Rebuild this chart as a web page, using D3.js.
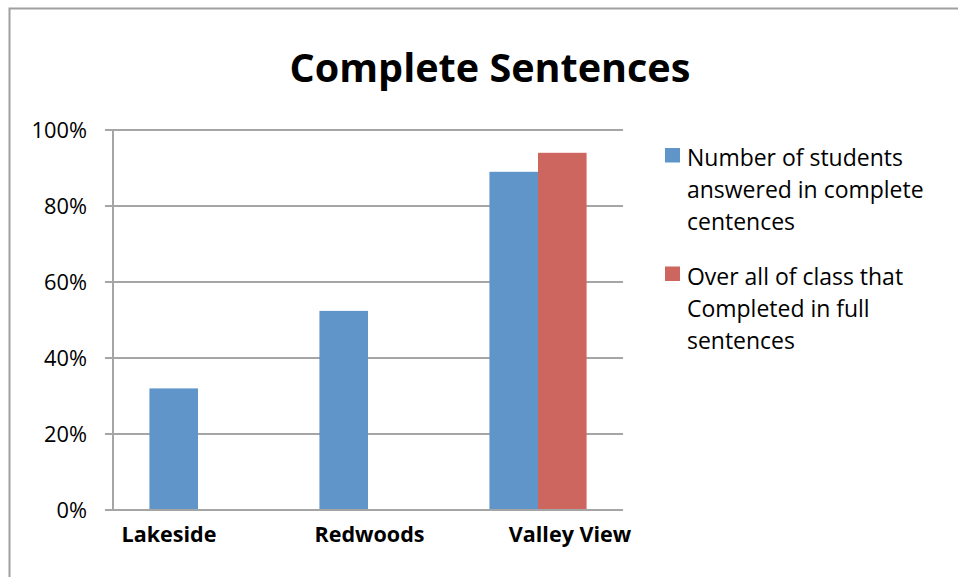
<!DOCTYPE html>
<html>
<head>
<meta charset="utf-8">
<script src="https://cdn.jsdelivr.net/npm/d3@7/dist/d3.min.js"></script>
<style>
  html, body { margin: 0; padding: 0; background: #ffffff; }
  svg { display: block; font-family: "Open Sans", "Noto Sans", sans-serif; }
</style>
</head>
<body>
<svg id="chart" width="958" height="577"></svg>
<script>
// ---- data ----
const titleText = "Complete Sentences";
const categories = ["Lakeside", "Redwoods", "Valley View"];
const seriesNames = [
  "Number of students answered in complete centences",
  "Over all of class that Completed in full sentences"
];
const legendLines = [
  ["Number of students", "answered in complete", "centences"],
  ["Over all of class that", "Completed in full", "sentences"]
];
const studentsValues = [0.32, 0.524, 0.89];
const classValues = [0, 0, 0.94];
const yTicks = [0, 0.2, 0.4, 0.6, 0.8, 1.0];
const colors = ["#6095c9", "#cc665f"];

// ---- layout ----
const W = 958, H = 577;
const plot = { left: 113, right: 623, top: 130, bottom: 510 };
const gridColor = "#a5a5a5";

const svg = d3.select("#chart");

// frame (top and left border visible)
svg.append("path")
  .attr("d", `M9.5,${H} L9.5,8.5 L${W},8.5`)
  .attr("fill", "none").attr("stroke", "#a0a0a0").attr("stroke-width", 2);

// helper: scale font size so a reference string matches a target width
function fitSize(text, weight, baseSize, targetWidth) {
  const t = svg.append("text").attr("font-size", baseSize).attr("font-weight", weight).text(text);
  const w = t.node().getComputedTextLength();
  t.remove();
  return baseSize * targetWidth / w;
}

const titleSize = fitSize(titleText, "bold", 40, 401);
const tickSize = fitSize("0%", "normal", 24, 30.5);
const legendSize = fitSize("Number of students", "normal", 24, 216);
const catSize = fitSize("Lakeside", "bold", 24, 95);

// ---- scales ----
const y = d3.scaleLinear().domain([0, 1]).range([plot.bottom, plot.top]);
const p = 1.5 / 3.5;
const x0 = d3.scaleBand().domain(categories).range([plot.left, plot.right])
  .paddingInner(p).paddingOuter(p / 2);
const x1 = d3.scaleBand().domain(seriesNames).range([0, x0.bandwidth()]);
const labelX = d3.scalePoint().domain(categories).range([169, 570]);

// ---- gridlines ----
svg.append("g").selectAll("line").data(yTicks).join("line")
  .attr("x1", plot.left - 8).attr("x2", plot.right)
  .attr("y1", d => y(d)).attr("y2", d => y(d))
  .attr("stroke", gridColor).attr("stroke-width", 2);

// y axis line
svg.append("line")
  .attr("x1", plot.left).attr("x2", plot.left)
  .attr("y1", plot.top).attr("y2", plot.bottom + 1)
  .attr("stroke", gridColor).attr("stroke-width", 2);

// y tick labels
svg.append("g").selectAll("text").data(yTicks).join("text")
  .attr("x", 87).attr("y", d => y(d))
  .attr("dy", "0.35em")
  .attr("text-anchor", "end")
  .attr("font-size", tickSize)
  .attr("fill", "#000")
  .text(d3.format(".0%"));

// ---- bars ----
const seriesData = [studentsValues, classValues];
const groups = svg.append("g").selectAll("g").data(categories).join("g")
  .attr("transform", d => `translate(${x0(d)},0)`);
groups.selectAll("rect")
  .data((c, i) => seriesNames.map((s, si) => ({ s, si, v: seriesData[si][i] })))
  .join("rect")
  .attr("x", d => x1(d.s))
  .attr("width", x1.bandwidth())
  .attr("y", d => y(d.v))
  .attr("height", d => y(0) - y(d.v))
  .attr("fill", d => colors[d.si]);

// baseline redraw over bars
svg.append("line")
  .attr("x1", plot.left - 8).attr("x2", plot.right)
  .attr("y1", y(0)).attr("y2", y(0))
  .attr("stroke", gridColor).attr("stroke-width", 2);

// category labels
svg.append("g").selectAll("text").data(categories).join("text")
  .attr("x", d => labelX(d)).attr("y", 542)
  .attr("text-anchor", "middle")
  .attr("font-weight", "bold")
  .attr("font-size", catSize)
  .attr("fill", "#000")
  .text(d => d);

// title
svg.append("text")
  .attr("x", 490).attr("y", 82)
  .attr("text-anchor", "middle")
  .attr("font-weight", "bold")
  .attr("font-size", titleSize)
  .attr("fill", "#000")
  .text(titleText);

// ---- legend ----
const legend = svg.append("g").selectAll("g").data(legendLines).join("g")
  .attr("transform", (d, i) => `translate(665,${148 + i * 118.5})`);
legend.append("rect")
  .attr("width", 15).attr("height", 14.5)
  .attr("fill", (d, i) => colors[i]);
legend.append("text")
  .attr("font-size", legendSize)
  .attr("fill", "#000")
  .selectAll("tspan").data(d => d).join("tspan")
  .attr("x", 22)
  .attr("y", (d, j) => 18 + j * 32)
  .text(d => d);
</script>
</body>
</html>
